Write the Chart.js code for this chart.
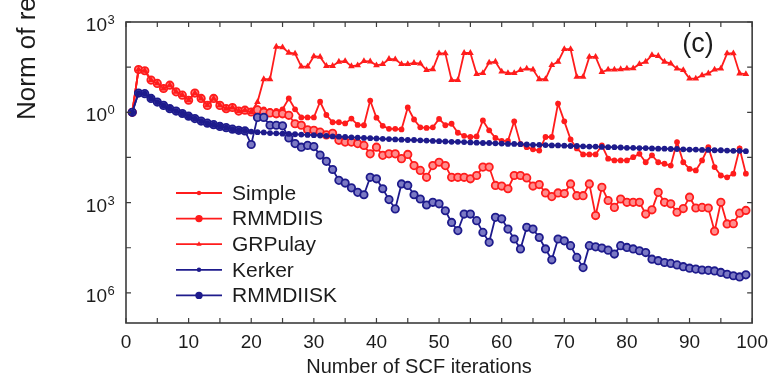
<!DOCTYPE html>
<html>
<head>
<meta charset="utf-8">
<script src="https://cdn.jsdelivr.net/npm/chart.js@4.4.0/dist/chart.umd.min.js"></script>
<style>
  html, body { margin: 0; padding: 0; background: #fff; }
</style>
</head>
<body>
<canvas id="scf" width="776" height="378"></canvas>
<script>
// residual norms stored as log10 values, one per SCF iteration
const iterations = [
  1, 2, 3, 4, 5, 6, 7, 8, 9, 10, 11, 12, 13, 14, 15, 16, 17, 18, 19, 20,
  21, 22, 23, 24, 25, 26, 27, 28, 29, 30, 31, 32, 33, 34, 35, 36, 37, 38, 39, 40,
  41, 42, 43, 44, 45, 46, 47, 48, 49, 50, 51, 52, 53, 54, 55, 56, 57, 58, 59, 60,
  61, 62, 63, 64, 65, 66, 67, 68, 69, 70, 71, 72, 73, 74, 75, 76, 77, 78, 79, 80,
  81, 82, 83, 84, 85, 86, 87, 88, 89, 90, 91, 92, 93, 94, 95, 96, 97, 98, 99
];

const simple = [
  0.00, 1.42, 1.38, 1.07, 0.96, 0.79, 0.90, 0.68, 0.57, 0.40,
  0.64, 0.46, 0.23, 0.46, 0.23, 0.12, 0.16, 0.04, 0.07, 0.01,
  0.13, 0.10, 0.05, 0.05, 0.10, 0.46, 0.10, -0.17, -0.17, -0.17,
  0.35, -0.09, -0.33, -0.33, -0.37, -0.21, -0.42, -0.43, 0.39, -0.18,
  -0.45, -0.55, -0.55, -0.57, 0.16, -0.24, -0.50, -0.52, -0.50, -0.22,
  -0.43, -0.38, -0.68, -0.78, -0.82, -0.80, -0.27, -0.60, -0.85, -0.95,
  -0.95, -0.30, -1.05, -1.16, -1.23, -1.27, -0.82, -0.82, 0.29, -0.30,
  -0.90, -1.20, -1.40, -1.40, -1.40, -1.10, -1.54, -1.60, -1.60, -1.60,
  -1.49, -1.38, -1.66, -1.43, -1.66, -1.71, -1.77, -0.99, -1.66, -1.88,
  -1.93, -1.60, -1.16, -1.82, -2.10, -2.16, -2.04, -1.20, -2.04
];

const rmmdiis = [
  0.00, 1.42, 1.38, 1.07, 0.96, 0.79, 0.90, 0.68, 0.57, 0.40,
  0.64, 0.46, 0.23, 0.46, 0.23, 0.12, 0.16, 0.04, 0.07, 0.01,
  0.08, 0.00, -0.02, -0.05, -0.05, -0.10, -0.38, -0.43, -0.58, -0.60,
  -0.66, -0.75, -0.70, -0.93, -0.99, -0.99, -1.04, -1.10, -1.38, -1.16,
  -1.43, -1.38, -1.38, -1.54, -1.40, -1.77, -1.93, -2.16, -1.77, -1.66,
  -1.77, -2.16, -2.16, -2.16, -2.21, -2.10, -1.82, -1.82, -2.43, -2.45,
  -2.54, -2.10, -2.10, -2.18, -2.45, -2.40, -2.68, -2.80, -2.68, -2.70,
  -2.38, -2.77, -2.77, -2.38, -3.43, -2.49, -2.93, -3.16, -2.88, -2.99,
  -2.99, -2.99, -3.38, -3.24, -2.66, -2.99, -3.04, -3.32, -3.20, -2.82,
  -3.18, -3.16, -3.18, -3.95, -2.99, -3.71, -3.70, -3.35, -3.26
];

const grpulay = [
  0.00, 1.42, 1.38, 1.07, 0.96, 0.79, 0.90, 0.68, 0.57, 0.40,
  0.64, 0.46, 0.23, 0.46, 0.23, 0.12, 0.16, 0.04, 0.07, 0.01,
  0.34, 1.10, 1.10, 2.18, 2.16, 1.98, 1.95, 1.52, 1.52, 1.86,
  1.84, 1.54, 1.54, 1.68, 1.70, 1.53, 1.56, 1.70, 1.69, 1.56,
  1.60, 1.77, 1.76, 1.60, 1.60, 1.64, 1.62, 1.40, 1.43, 1.96,
  1.96, 1.07, 1.07, 1.97, 1.97, 1.27, 1.30, 1.65, 1.68, 1.35,
  1.30, 1.30, 1.40, 1.45, 1.42, 1.10, 1.10, 1.57, 1.68, 2.10,
  2.10, 1.18, 1.18, 1.84, 1.84, 1.34, 1.42, 1.42, 1.43, 1.45,
  1.46, 1.60, 1.68, 1.90, 1.87, 1.68, 1.62, 1.45, 1.40, 1.12,
  1.12, 1.23, 1.29, 1.42, 1.45, 1.96, 1.96, 1.29, 1.27
];

const kerker = [
  0.00, 0.64, 0.62, 0.46, 0.34, 0.23, 0.12, 0.04, -0.04, -0.13,
  -0.21, -0.29, -0.36, -0.41, -0.47, -0.51, -0.56, -0.60, -0.62, -0.64,
  -0.66, -0.67, -0.69, -0.70, -0.71, -0.72, -0.73, -0.74, -0.75, -0.76,
  -0.77, -0.78, -0.80, -0.81, -0.82, -0.83, -0.84, -0.85, -0.86, -0.87,
  -0.88, -0.89, -0.90, -0.91, -0.92, -0.92, -0.93, -0.94, -0.95, -0.96,
  -0.97, -0.98, -0.98, -0.99, -1.00, -1.01, -1.02, -1.02, -1.03, -1.04,
  -1.05, -1.05, -1.06, -1.07, -1.08, -1.08, -1.09, -1.10, -1.10, -1.11,
  -1.12, -1.12, -1.13, -1.14, -1.14, -1.15, -1.16, -1.16, -1.17, -1.18,
  -1.18, -1.19, -1.19, -1.20, -1.21, -1.21, -1.22, -1.22, -1.23, -1.24,
  -1.24, -1.25, -1.25, -1.26, -1.26, -1.27, -1.28, -1.28, -1.29
];

const rmmdiisk = [
  0.00, 0.64, 0.62, 0.46, 0.34, 0.23, 0.12, 0.04, -0.04, -0.13,
  -0.21, -0.29, -0.36, -0.41, -0.47, -0.51, -0.56, -0.60, -0.62, -1.07,
  -0.17, -0.17, -0.43, -0.43, -0.45, -0.85, -1.04, -1.16, -1.10, -1.14,
  -1.42, -1.63, -1.90, -2.26, -2.35, -2.51, -2.66, -2.74, -2.16, -2.21,
  -2.54, -2.90, -3.21, -2.38, -2.43, -2.74, -2.88, -3.08, -2.99, -3.04,
  -3.27, -3.66, -3.93, -3.38, -3.38, -3.60, -3.99, -4.32, -3.49, -3.54,
  -3.88, -4.21, -4.54, -3.82, -3.88, -4.16, -4.54, -4.90, -4.21, -4.27,
  -4.43, -4.82, -5.16, -4.43, -4.47, -4.51, -4.58, -4.71, -4.43, -4.49,
  -4.54, -4.60, -4.66, -4.88, -4.93, -4.99, -5.02, -5.07, -5.13, -5.18,
  -5.21, -5.24, -5.25, -5.27, -5.32, -5.38, -5.43, -5.47, -5.40
];

// axis decorations
const yMarkValues = [3, 1.5, 0, -1.5, -3, -4.5, -6];
const yLabelValues = [3, 0, -3, -6];
const yLabelExponents = ["3", "0", "3", "6"];
const seriesNames = ["Simple", "RMMDIIS", "GRPulay", "Kerker", "RMMDIISK"];

const RED = "#ff1c1c";
const NAVY = "#1e1b8c";
const FONT = '"Liberation Sans", Arial, Helvetica, sans-serif';
const INK = "#1c1c1c";

const toPoints = (ys) => ys.map((y, k) => ({ x: iterations[k], y: y }));

const datasets = [
  {
    label: seriesNames[0], data: toPoints(simple), order: 4,
    borderColor: RED, borderWidth: 1.8,
    pointStyle: "circle", pointRadius: 2.9, pointBorderWidth: 0,
    pointBackgroundColor: RED, legendRadius: 2.2,
  },
  {
    label: seriesNames[1], data: toPoints(rmmdiis), order: 3,
    borderColor: RED, borderWidth: 1.8,
    pointStyle: "circle", pointRadius: 3.7, pointBorderWidth: 1.8,
    pointBorderColor: RED, pointBackgroundColor: "#ff8c8c", legendRadius: 2.8,
  },
  {
    label: seriesNames[2], data: toPoints(grpulay), order: 2,
    borderColor: RED, borderWidth: 1.8,
    pointStyle: "triangle", pointRadius: 3.9, pointBorderWidth: 0,
    pointBackgroundColor: RED, legendRadius: 3,
  },
  {
    label: seriesNames[3], data: toPoints(kerker), order: 0,
    borderColor: NAVY, borderWidth: 1.8,
    pointStyle: "circle", pointRadius: 2.9, pointBorderWidth: 0,
    pointBackgroundColor: NAVY, legendRadius: 2.2,
  },
  {
    label: seriesNames[4], data: toPoints(rmmdiisk), order: 1,
    borderColor: NAVY, borderWidth: 1.8,
    pointStyle: "circle", pointRadius: 3.7, pointBorderWidth: 1.8,
    pointBorderColor: NAVY, pointBackgroundColor: "#7b79c4", legendRadius: 2.8,
  },
];

// box around the plot with inward ticks on all four sides
const framePlugin = {
  id: "frame",
  afterDatasetsDraw(chart) {
    const { ctx, chartArea: a, scales } = chart;
    ctx.save();
    ctx.strokeStyle = "#3c3c3c";
    ctx.lineWidth = 1.6;
    ctx.strokeRect(a.left, a.top, a.right - a.left, a.bottom - a.top);
    ctx.lineWidth = 1.2;
    ctx.beginPath();
    for (let v = 0; v <= 100; v += 5) {
      const x = scales.x.getPixelForValue(v);
      ctx.moveTo(x, a.bottom); ctx.lineTo(x, a.bottom - 5);
      ctx.moveTo(x, a.top); ctx.lineTo(x, a.top + 5);
    }
    yMarkValues.forEach((v) => {
      const y = scales.y.getPixelForValue(v);
      ctx.moveTo(a.left, y); ctx.lineTo(a.left + 5, y);
      ctx.moveTo(a.right, y); ctx.lineTo(a.right - 5, y);
    });
    ctx.stroke();
    ctx.restore();
  },
};

// power-of-ten labels, titles, panel tag and legend
const textPlugin = {
  id: "texts",
  afterDraw(chart) {
    const { ctx, scales } = chart;
    ctx.save();
    ctx.fillStyle = INK;

    yLabelValues.forEach((v, k) => {
      const y = scales.y.getPixelForValue(v);
      ctx.font = "19px " + FONT;
      ctx.textAlign = "right";
      ctx.textBaseline = "alphabetic";
      ctx.fillText("10", 107, y + 9);
      ctx.font = "13px " + FONT;
      ctx.textAlign = "left";
      ctx.fillText(yLabelExponents[k], 107.5, y + 2);
    });

    ctx.font = "20px " + FONT;
    ctx.textAlign = "center";
    ctx.textBaseline = "alphabetic";
    ctx.fillText("Number of SCF iterations", 419, 373);

    ctx.font = "27px " + FONT;
    ctx.textBaseline = "middle";
    ctx.fillText("(c)", 698, 45);

    ctx.save();
    ctx.translate(35, 120);
    ctx.rotate(-Math.PI / 2);
    ctx.font = "26px " + FONT;
    ctx.textAlign = "left";
    ctx.textBaseline = "alphabetic";
    ctx.fillText("Norm of residual", 0, 0);
    ctx.restore();

    // legend rows
    ctx.font = "21px " + FONT;
    ctx.textAlign = "left";
    ctx.textBaseline = "middle";
    datasets.forEach((ds, k) => {
      const y = 193 + k * 25.6;
      ctx.strokeStyle = ds.borderColor;
      ctx.lineWidth = 1.8;
      ctx.beginPath();
      ctx.moveTo(176, y);
      ctx.lineTo(222, y);
      ctx.stroke();
      ctx.fillStyle = ds.pointBorderColor || ds.pointBackgroundColor;
      Chart.helpers.drawPoint(ctx, {
        pointStyle: ds.pointStyle,
        radius: ds.legendRadius,
        borderWidth: ds.pointBorderWidth,
        rotation: 0,
      }, 199, y);
      ctx.fillStyle = INK;
      ctx.fillText(ds.label, 232, y + 1);
    });
    ctx.restore();
  },
};

new Chart(document.getElementById("scf"), {
  type: "line",
  data: { datasets: datasets },
  options: {
    responsive: false,
    animation: false,
    events: [],
    layout: { padding: { left: 0, right: 19, top: 22, bottom: 0 } },
    scales: {
      x: {
        type: "linear",
        min: 0,
        max: 100,
        grid: { display: false, drawTicks: false },
        border: { display: false },
        ticks: {
          stepSize: 10,
          padding: 8,
          color: INK,
          font: { family: FONT, size: 19 },
        },
        afterFit(scale) { scale.height = 55; },
      },
      y: {
        type: "linear",
        min: -7,
        max: 3,
        grid: { display: false, drawTicks: false },
        border: { display: false },
        ticks: { display: false },
        afterFit(scale) { scale.width = 126; },
      },
    },
    plugins: {
      legend: { display: false },
      tooltip: { enabled: false },
    },
  },
  plugins: [framePlugin, textPlugin],
});
</script>
</body>
</html>
